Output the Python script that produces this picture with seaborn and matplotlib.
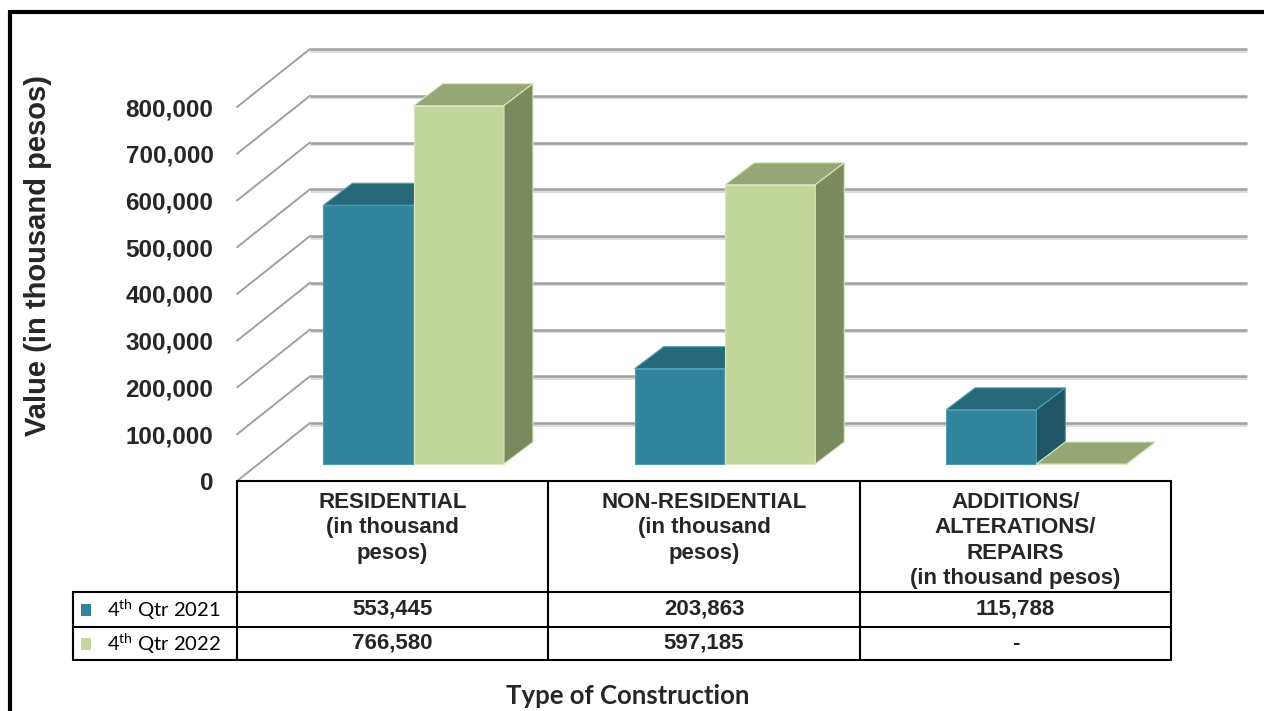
import numpy as np
import pandas as pd
import matplotlib
matplotlib.use('Agg')
import matplotlib.pyplot as plt
from matplotlib.transforms import ScaledTranslation, blended_transform_factory
from matplotlib.patches import Polygon, Rectangle
from matplotlib.lines import Line2D
import seaborn as sns


# chart data
categories = ['RESIDENTIAL', 'NON-RESIDENTIAL', 'ADDITIONS/ALTERATIONS/REPAIRS']
header_labels = ['RESIDENTIAL\n(in thousand\npesos)',
                 'NON-RESIDENTIAL\n(in thousand\npesos)',
                 'ADDITIONS/\nALTERATIONS/\nREPAIRS\n(in thousand pesos)']
periods = ['4th Qtr 2021', '4th Qtr 2022']
period_labels = [r'4$^{\mathrm{th}}$ Qtr 2021', r'4$^{\mathrm{th}}$ Qtr 2022']
values_2021 = [553445, 203863, 115788]
values_2022 = [766580, 597185, 0]
table_2021 = ['553,445', '203,863', '115,788']
table_2022 = ['766,580', '597,185', '-']
y_ticks = [0, 100000, 200000, 300000, 400000, 500000, 600000, 700000, 800000]

front_colors = ['#31849b', '#c3d69b']
top_colors = ['#276878', '#96a674']
side_colors = ['#1f5565', '#7b895f']
edge_colors = ['#4f9db2', '#d9e6c0']

W, H = 1264, 711

sns.set_style('white')
plt.rcParams['font.family'] = ['Liberation Sans', 'DejaVu Sans']
plt.rcParams['mathtext.fontset'] = 'custom'
plt.rcParams['mathtext.rm'] = 'Lato'


def fx(px):
    return px / W


def fy(py):
    return 1 - py / H


fig = plt.figure(figsize=(W / 100, H / 100), dpi=100)
ax = fig.add_axes([fx(237), fy(481), fx(1171) - fx(237), fy(107) - fy(481)])

df = pd.DataFrame({
    'category': categories * 2,
    'period': [periods[0]] * 3 + [periods[1]] * 3,
    'value': values_2021 + values_2022,
})

sns.barplot(data=df, x='category', y='value', hue='period', hue_order=periods,
            palette=front_colors, width=0.58, saturation=1, legend=False,
            errorbar=None, ax=ax)
ax.set_xlim(-0.5, 2.5)
ax.set_ylim(0, 800000)

# pixel scale of the data axes
p0 = ax.transData.transform((0, 0))
p1 = ax.transData.transform((1, 100000))
px_x = p1[0] - p0[0]
px_y = (p1[1] - p0[1]) / 100000


def shift(dx, dy):
    return ax.transData + ScaledTranslation(dx / 100, dy / 100, fig.dpi_scale_trans)


# back wall gridlines + left wall diagonals (soft shadow underneath)
back = shift(73, 58)
back_shadow = shift(73, 56.5)
ax.hlines(y_ticks, -0.5, 2.5 + 3 / px_x, transform=back_shadow, colors='#dcdcdc',
          lw=2.2, clip_on=False, zorder=0.9)
ax.hlines(y_ticks, -0.5, 2.5 + 3 / px_x, transform=back, colors='#a0a0a0',
          lw=1.8, clip_on=False, zorder=1)
for t in y_ticks:
    ax.plot([-0.5, -0.5 + 73 / px_x], [t, t + 58 / px_y], color='#a0a0a0',
            lw=1.4, clip_on=False, zorder=1)

# 3d bars: front face from seaborn, top and side faces from each bar
bar_tr = shift(21, 17)
ddx = 29 / px_x
ddy = 22 / px_y
for i, cont in enumerate(ax.containers):
    for p in cont.patches:
        p.set_transform(bar_tr)
        p.set_clip_on(False)
        p.set_zorder(3 + i)
        p.set_edgecolor(edge_colors[i])
        p.set_linewidth(0.8)
        x0, w, h = p.get_x(), p.get_width(), p.get_height()
        top = Polygon([(x0, h), (x0 + w, h), (x0 + w + ddx, h + ddy), (x0 + ddx, h + ddy)],
                      closed=True, facecolor=top_colors[i], edgecolor=edge_colors[i],
                      lw=0.8, transform=bar_tr, clip_on=False, zorder=3 + i)
        side = Polygon([(x0 + w, 0), (x0 + w, h), (x0 + w + ddx, h + ddy), (x0 + w + ddx, ddy)],
                       closed=True, facecolor=side_colors[i], edgecolor=edge_colors[i],
                       lw=0.8, transform=bar_tr, clip_on=False, zorder=3 + i)
        ax.add_patch(top)
        if h > 0:
            ax.add_patch(side)

ax.set_yticks(y_ticks)
ax.set_yticklabels([f'{t:,}' for t in y_ticks], fontweight='bold', fontsize=17.5)
ax.tick_params(axis='y', length=0, pad=17)
ax.set_xticks([])
ax.set_xlabel('')
ax.set_ylabel('')
for s in ax.spines.values():
    s.set_visible(False)
ax.patch.set_alpha(0)

fig.text(fx(38), fy(256), 'Value (in thousand pesos)', rotation=90, ha='center',
         va='center', fontsize=21, fontweight='bold')

# data table under the chart
tb = blended_transform_factory(ax.transData, fig.transFigure)
col_edges = [-0.5, 0.5, 1.5, 2.5]
row_y = [fy(481), fy(592), fy(627), fy(660)]
lc = dict(color='black', lw=1.5, clip_on=False)

fig.add_artist(Line2D([-0.5, 2.5], [row_y[0], row_y[0]], transform=tb, **lc))
for y in row_y[1:]:
    fig.add_artist(Line2D([fx(73), fx(237)], [y, y], transform=fig.transFigure, **lc))
    fig.add_artist(Line2D([-0.5, 2.5], [y, y], transform=tb, **lc))
for x in col_edges:
    fig.add_artist(Line2D([x, x], [row_y[0], row_y[3]], transform=tb, **lc))
fig.add_artist(Line2D([fx(73), fx(73)], [row_y[1], row_y[3]], transform=fig.transFigure, **lc))

for j, lab in enumerate(header_labels):
    fig.text(j, fy(492), lab, transform=tb, ha='center', va='top', fontsize=16,
             fontweight='bold', linespacing=1.27)
for j in range(3):
    fig.text(j, (row_y[1] + row_y[2]) / 2, table_2021[j], transform=tb, ha='center',
             va='center', fontsize=16, fontweight='bold')
    fig.text(j, (row_y[2] + row_y[3]) / 2, table_2022[j], transform=tb, ha='center',
             va='center', fontsize=16, fontweight='bold')

for i, lab in enumerate(period_labels):
    yc = (row_y[1 + i] + row_y[2 + i]) / 2
    fig.add_artist(Rectangle((fx(81), yc - 6 / H), 10 / W, 12 / H, facecolor=front_colors[i],
                             edgecolor='none', transform=fig.transFigure))
    fig.text(fx(107), yc, lab, ha='left', va='center', fontsize=14.5, family='Lato',
             color='black')

fig.text(fx(628), fy(696), 'Type of Construction', ha='center', va='center',
         fontsize=18.5, fontweight='bold', family='Lato')

# outer frame
fig.add_artist(Rectangle((fx(10), -0.1), 1.2, fy(12) + 0.1, facecolor='none',
                         edgecolor='black', lw=3, transform=fig.transFigure))

fig.savefig('out.png', dpi=100)
